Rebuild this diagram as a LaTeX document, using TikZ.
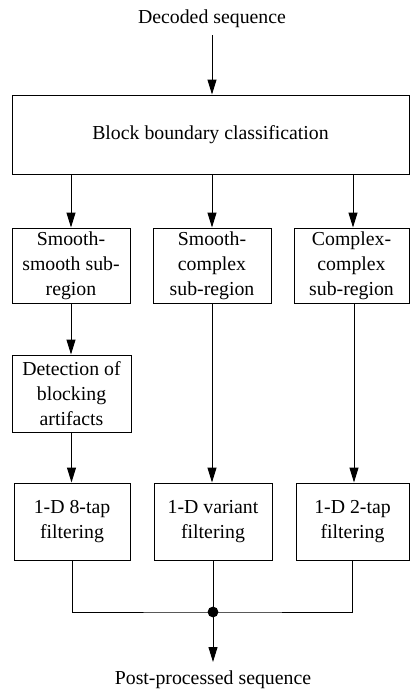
\documentclass[tikz,border=0pt]{standalone}
\usepackage{fontspec}
\setmainfont{Liberation Serif}
\usetikzlibrary{arrows.meta}

\begin{document}
\begin{tikzpicture}[x=0.5pt,y=-0.5pt,line width=0.5pt,font=\fontsize{9.9}{12.5}\selectfont]
	\tikzstyle{kuang}=[draw,rectangle,align=center,inner sep=0pt,minimum height=37.5pt];
	\tikzstyle{jian}=[-{Triangle[length=7.5pt,width=4.5pt]}];
	\useasboundingbox (0,0) rectangle (410,698);
	%% input and classification
	\node (dec) at (212,19) {Decoded sequence};
	\node[kuang,minimum width=198.5pt,minimum height=39.5pt] (classify) at (210.5,134.5) {Block boundary classification};
	%% sub-regions
	\node[kuang,minimum width=59pt]   (ss) at (71,265.5)  {Smooth-\\smooth sub-\\region};
	\node[kuang,minimum width=59pt]   (sc) at (212,265.5) {Smooth-\\complex\\sub-region};
	\node[kuang,minimum width=57.5pt] (cc) at (351.5,265.5) {Complex-\\complex\\sub-region};
	%% detection
	\node[kuang,minimum width=59.5pt,minimum height=38.5pt] (det) at (71.5,393.5) {Detection of\\blocking\\artifacts};
	%% filtering
	\node[kuang,minimum width=58pt,minimum height=38.5pt]   (f8) at (72,521.5)  {1-D 8-tap\\filtering};
	\node[kuang,minimum width=59pt,minimum height=38.5pt]   (fv) at (213,521.5) {1-D variant\\filtering};
	\node[kuang,minimum width=56.5pt,minimum height=38.5pt] (f2) at (352.5,521.5) {1-D 2-tap\\filtering};
	%% output
	\coordinate (join) at (213,612);
	\node[anchor=north,inner sep=4pt] (out) at (213,662) {Post-processed sequence};
	%% connections
	\draw[jian] (dec.south) -- (dec.south |- classify.north);
	\draw[jian] (classify.south -| ss.north) -- (ss.north);
	\draw[jian] (classify.south -| sc.north) -- (sc.north);
	\draw[jian] (classify.south -| 353,0) -- (353,0 |- cc.north);
	\draw[jian] (ss.south) -- (ss.south |- det.north);
	\draw[jian] (det.south) -- (det.south |- f8.north);
	\draw[jian] (sc.south) -- (sc.south |- fv.north);
	\draw[jian] (354,0 |- cc.south) -- (354,0 |- f2.north);
	\draw (f8.south) |- (join) -| (f2.south);
	\draw (fv.south) -- (join);
	\fill (join) circle (2.7pt);
	\draw[jian] (join) -- (out.north);
\end{tikzpicture}
\end{document}
